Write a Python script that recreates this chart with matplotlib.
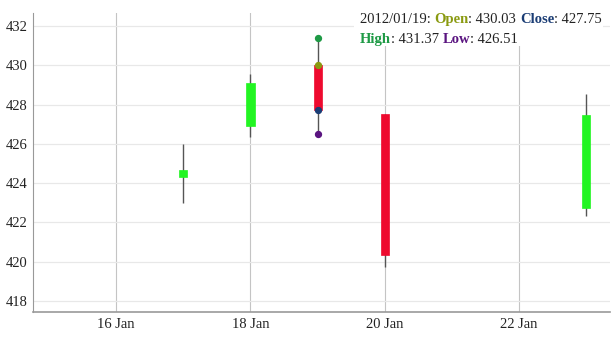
import matplotlib
matplotlib.use("Agg")
import matplotlib.pyplot as plt
import matplotlib.dates as mdates
from matplotlib.patches import Rectangle
import datetime as dt

plt.rcParams['font.family'] = ['Liberation Serif', 'DejaVu Serif']

dates = ["2012-01-17", "2012-01-18", "2012-01-19", "2012-01-20", "2012-01-23"]
opens = [424.30, 426.90, 430.03, 427.50, 422.75]
highs = [426.00, 429.55, 431.37, 427.50, 428.55]
lows = [423.00, 426.35, 426.51, 419.72, 422.35]
closes = [424.65, 429.10, 427.75, 420.35, 427.45]

tick_dates = ["2012-01-16", "2012-01-18", "2012-01-20", "2012-01-22"]
y_ticks = [418, 420, 422, 424, 426, 428, 430, 432]

hover_date = "2012-01-19"

up_color = "#22f522"
down_color = "#ee0a2e"

fig = plt.figure(figsize=(6.15, 3.44), dpi=100)
ax = fig.add_axes([0.054, 0.093, 0.938, 0.869])

xs = [mdates.date2num(dt.datetime.fromisoformat(d)) for d in dates]
width = 0.12
for x, o, h, l, c in zip(xs, opens, highs, lows, closes):
    col = up_color if c >= o else down_color
    ax.vlines(x, l, h, color="#555555", linewidth=1.0, zorder=3)
    ax.bar(x, abs(c - o), bottom=min(o, c), width=width, color=col,
           edgecolor=col, linewidth=0.5, zorder=4)

# hover markers
hi = dates.index(hover_date)
hx = xs[hi]
ax.scatter([hx], [highs[hi]], s=18, color="#1e9a45", zorder=5)
ax.scatter([hx], [opens[hi]], s=18, color="#8a9a10", zorder=5)
ax.scatter([hx], [closes[hi]], s=18, color="#1b3d75", zorder=5)
ax.scatter([hx], [lows[hi]], s=18, color="#5a1480", zorder=5)

xt = [mdates.date2num(dt.datetime.fromisoformat(d)) for d in tick_dates]
ax.set_xticks(xt)
ax.set_xticklabels([dt.datetime.fromisoformat(d).strftime("%d Jan").lstrip("0") for d in tick_dates])
ax.set_yticks(y_ticks)
ax.set_xlim(xt[0] - 1.235, xt[-1] + 1.354)
ax.set_ylim(417.44, 432.66)

ax.grid(axis='x', color="#c4c4c4", linewidth=0.8, zorder=0)
ax.grid(axis='y', color="#e8e8e8", linewidth=0.9, zorder=0)
ax.set_axisbelow(True)
for s in ["top", "right"]:
    ax.spines[s].set_visible(False)
ax.spines["left"].set_color("#999999")
ax.spines["bottom"].set_color("#999999")
ax.spines["bottom"].set_linewidth(1.2)
ax.tick_params(axis='both', length=0, labelsize=10.5, colors="#222222", pad=4)
ax.tick_params(axis='x', pad=4)

# tooltip background
fig.patches.append(Rectangle((0.575, 0.865), 0.405, 0.11, transform=fig.transFigure,
                             facecolor="white", edgecolor="none", zorder=2))

# tooltip text
d = dt.datetime.fromisoformat(hover_date).strftime("%Y/%m/%d")
fs = 10.5
y1 = 0.932
y2 = 0.875
def seq(parts, x0, y):
    x = x0
    r = fig.canvas.get_renderer()
    for txt, col, bold in parts:
        t = fig.text(x, y, txt, color=col, fontsize=fs, fontweight="bold" if bold else "normal",
                     va="baseline", ha="left", zorder=3)
        bb = t.get_window_extent(renderer=r)
        x += bb.width / fig.bbox.width
seq([(d + ": ", "#222222", False), ("Open", "#8a9a10", True), (": %.2f " % opens[hi], "#222222", False),
     ("Close", "#1b3d75", True), (": %.2f" % closes[hi], "#222222", False)], 0.585, y1)
seq([("High", "#1e9a45", True), (": %.2f " % highs[hi], "#222222", False),
     ("Low", "#5a1480", True), (": %.2f" % lows[hi], "#222222", False)], 0.585, y2)

fig.savefig("out.png", dpi=100)
